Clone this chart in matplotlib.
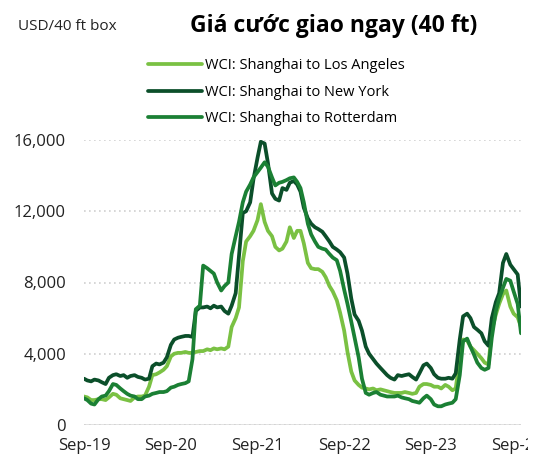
import pandas as pd
import matplotlib
matplotlib.use('Agg')
import matplotlib.pyplot as plt
import matplotlib.dates as mdates
from matplotlib.ticker import FuncFormatter
from matplotlib.transforms import Bbox, TransformedBbox

plt.rcParams['font.family'] = ['Open Sans', 'DejaVu Sans']

# semi-monthly readings, Sep 2019 .. mid Sep 2024 (USD per 40 ft box)
dates = pd.date_range('2019-09-01', periods=122, freq='SMS')

la = [1600, 1550, 1400, 1400, 1450, 1450, 1400, 1550, 1750, 1700,
      1500, 1450, 1400, 1350, 1550, 1600, 1600, 1650, 2150, 2800,
      2850, 2950, 3100, 3300, 3850, 4000, 4050, 4050, 4100, 4050,
      4050, 4100, 4150, 4150, 4250, 4200, 4300, 4250, 4300, 4250,
      4400, 5500, 6000, 6600, 9200, 10300, 10600, 10900, 11500, 12400,
      11400, 10900, 10600, 10000, 9800, 9900, 10300, 11100, 10500, 10900,
      10900, 10200, 9100, 8800, 8750, 8750, 8600, 8300, 7800, 7500,
      7000, 6300, 5300, 4100, 3000, 2500, 2250, 2100, 2050, 2000,
      2050, 1950, 2000, 1950, 1900, 1850, 1800, 1800, 1800, 1850,
      1800, 1750, 1800, 2150, 2300, 2300, 2250, 2150, 2150, 2050,
      2250, 2150, 1950, 2050, 3800, 4800, 4750, 4400, 4200, 4000,
      3750, 3500, 3400, 5300, 6200, 6800, 7350, 7550, 6650, 6250,
      6050, 5500]

new_york = [2600, 2500, 2450, 2550, 2500, 2400, 2300, 2650, 2800, 2850,
            2750, 2800, 2650, 2750, 2800, 2700, 2650, 2550, 2600, 3300,
            3450, 3400, 3500, 3800, 4500, 4800, 4900, 4950, 5000, 5000,
            4950, 6400, 6600, 6600, 6650, 6550, 6700, 6600, 6650, 6400,
            6250, 6700, 7400, 9500, 11900, 12000, 12500, 13800, 15000, 15900,
            15800, 14700, 13000, 12700, 12600, 13300, 13200, 13600, 13700, 13500,
            13100, 12200, 11600, 11300, 11100, 11000, 10850, 10600, 10300, 10000,
            9850, 9700, 9400, 8500, 7100, 6200, 5850, 5300, 4400, 4000,
            3700, 3450, 3200, 3000, 2800, 2650, 2550, 2800, 2750, 2800,
            2850, 2700, 2550, 2900, 3350, 3450, 3200, 2850, 2650, 2600,
            2600, 2650, 2600, 2900, 4800, 6100, 6250, 6000, 5500, 5350,
            5150, 4700, 4450, 6000, 6900, 7400, 9100, 9600, 9000, 8750,
            8450, 6650]

rotterdam = [1500, 1400, 1200, 1150, 1450, 1600, 1650, 1900, 2300, 2250,
             2050, 1900, 1750, 1650, 1600, 1450, 1450, 1600, 1650, 1750,
             1800, 1850, 1850, 1900, 2100, 2150, 2250, 2300, 2350, 2450,
             3700, 6500, 6700, 8950, 8800, 8650, 8500, 8000, 7550, 7800,
             8000, 9600, 10600, 11400, 12500, 13100, 13500, 13900, 14200, 14450,
             14750, 14500, 13900, 13450, 13600, 13650, 13750, 13850, 13900, 13650,
             13300, 12500, 11300, 10700, 10300, 10000, 9900, 9850, 9600, 9400,
             9250, 8650, 7600, 6800, 5800, 4900, 3800, 2600, 1800, 1700,
             1800, 1850, 1700, 1650, 1600, 1600, 1600, 1650, 1550, 1500,
             1450, 1350, 1300, 1250, 1500, 1650, 1450, 1150, 1050, 1050,
             1150, 1200, 1250, 1450, 2800, 4700, 4850, 4400, 3950, 3500,
             3200, 3100, 3200, 4900, 6400, 7100, 7700, 8200, 8100, 7500,
             6800, 5150]

series = [
    ('WCI: Shanghai to Los Angeles', la, '#7ac143'),
    ('WCI: Shanghai to New York', new_york, '#0b4f2a'),
    ('WCI: Shanghai to Rotterdam', rotterdam, '#1b8034'),
]

fig = plt.figure(figsize=(5.4, 4.58), dpi=100)
ax = fig.add_axes([84 / 540, 33 / 458, 437 / 540, 285 / 458])

for label, values, color in series:
    ax.plot(dates, values, color=color, lw=2.7, label=label,
            solid_joinstyle='round', solid_capstyle='round')

ax.set_xlim(dates[0], dates[-1])
ax.set_ylim(0, 16000)
ax.set_yticks([0, 4000, 8000, 12000, 16000])
ax.yaxis.set_major_formatter(FuncFormatter(lambda v, p: f'{v:,.0f}'))
ax.xaxis.set_major_locator(mdates.MonthLocator(bymonth=9, bymonthday=1))
ax.xaxis.set_major_formatter(mdates.DateFormatter('%b-%y'))

ax.grid(axis='y', color='#d0d0d0', ls=(0, (1, 2)), lw=1.2)
ax.axhline(0, color='#d9d9d9', lw=1.8, zorder=1)
for s in ax.spines.values():
    s.set_visible(False)
ax.tick_params(axis='both', length=0, labelsize=12, colors='#222222')
ax.tick_params(axis='y', pad=13)
ax.tick_params(axis='x', pad=9)

fig.text(18 / 540, 1 - 26 / 458, 'USD/40 ft box', fontsize=11, va='center',
         ha='left', color='#222222')
fig.text(334 / 540, 1 - 26 / 458, 'Giá cước giao ngay (40 ft)', fontsize=16.5,
         fontweight='bold', va='center', ha='center')

ax.legend(loc='upper left', bbox_to_anchor=(148 / 540, 1 - 58 / 458),
          bbox_transform=fig.transFigure, frameon=False, fontsize=10.5,
          handlelength=3.7, handletextpad=0.2, labelspacing=0.8,
          borderaxespad=0, borderpad=0)

# the last date label runs past the chart frame, as in the source
fig.canvas.draw()
clip = TransformedBbox(Bbox([[0, 0], [528 / 540, 1]]), fig.transFigure)
for lbl in ax.get_xticklabels():
    lbl.set_clip_box(clip)
    lbl.set_clip_on(True)

fig.savefig('out.png', dpi=100)
